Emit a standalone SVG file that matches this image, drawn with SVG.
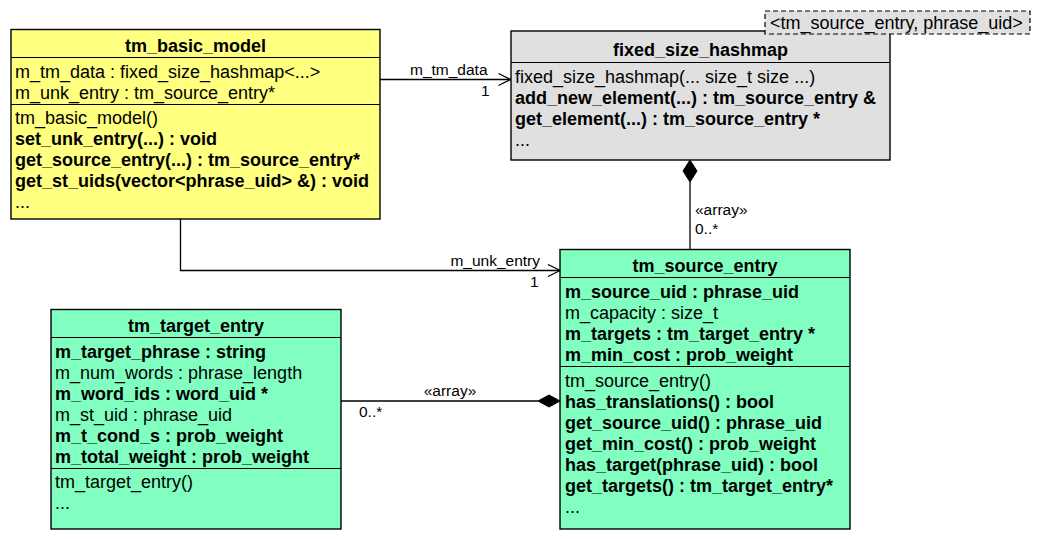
<svg xmlns="http://www.w3.org/2000/svg" width="1040" height="539" viewBox="0 0 1040 539">
<defs>
<style>
text{font-family:"Liberation Sans",Arial,Helvetica,sans-serif;font-size:18px;fill:#000}
.b{font-weight:bold}
.t{font-weight:bold;text-anchor:middle}
.lbl{font-size:15.5px}
.box{stroke:#000;stroke-width:1.4}
.y{fill:#ffff80}
.g{fill:#e0e0e0}
.a{fill:#80ffc0}
.div{stroke:#000;stroke-width:1.2}
.ln{stroke:#000;stroke-width:1.3;fill:none}
.dia{fill:#000;stroke:#000;stroke-width:1}
</style>
<marker id="open" viewBox="0 0 14 14" refX="13" refY="7" markerWidth="14" markerHeight="14" markerUnits="userSpaceOnUse" orient="auto">
<path d="M1,1 L13,7 L1,13" fill="none" stroke="#000" stroke-width="1.2"/>
</marker>
</defs>
<rect width="1040" height="539" fill="#fff"/>

<g id="connectors">
<line class="ln" x1="380" y1="79.5" x2="510.5" y2="79.5" marker-end="url(#open)"/>
<text class="lbl" x="410" y="75">m_tm_data</text>
<text class="lbl" x="481" y="96">1</text>
<path class="ln" d="M180.5,219 V270.5 H560" marker-end="url(#open)"/>
<text class="lbl" x="540" y="266" text-anchor="end">m_unk_entry</text>
<text class="lbl" x="530" y="287">1</text>
<line class="ln" x1="690" y1="182" x2="690" y2="249"/>
<path class="dia" d="M690,160 L697,171 L690,182 L683,171 Z"/>
<text class="lbl" x="695" y="215">«array»</text>
<text class="lbl" x="695" y="234">0..*</text>
<line class="ln" x1="341" y1="401" x2="538" y2="401"/>
<path class="dia" d="M560,401 L549,407 L538,401 L549,395 Z"/>
<text class="lbl" x="450" y="396" text-anchor="middle">«array»</text>
<text class="lbl" x="359" y="417">0..*</text>
</g>

<g id="tm_basic_model">
<rect class="box y" x="11" y="29.5" width="369" height="189.5"/>
<line class="div" x1="11" y1="57.5" x2="380" y2="57.5"/>
<line class="div" x1="11" y1="104.5" x2="380" y2="104.5"/>
<text class="t" x="195.5" y="52">tm_basic_model</text>
<text x="15" y="78">m_tm_data : fixed_size_hashmap&lt;...&gt;</text>
<text x="15" y="99">m_unk_entry : tm_source_entry*</text>
<text x="15" y="124">tm_basic_model()</text>
<text class="b" x="15" y="145">set_unk_entry(...) : void</text>
<text class="b" x="15" y="166">get_source_entry(...) : tm_source_entry*</text>
<text class="b" x="15" y="187">get_st_uids(vector&lt;phrase_uid&gt; &amp;) : void</text>
<text x="15" y="208">...</text>
</g>

<g id="fixed_size_hashmap">
<rect class="box g" x="511" y="31" width="379" height="129"/>
<line class="div" x1="511" y1="62.5" x2="890" y2="62.5"/>
<text class="t" x="700.5" y="56">fixed_size_hashmap</text>
<text x="515" y="83">fixed_size_hashmap(... size_t size ...)</text>
<text class="b" x="515" y="104">add_new_element(...) : tm_source_entry &amp;</text>
<text class="b" x="515" y="125">get_element(...) : tm_source_entry *</text>
<text x="515" y="146">...</text>
<rect class="g" x="765" y="11" width="265" height="23" stroke="#000" stroke-width="1.2" stroke-dasharray="5,3"/>
<text x="770" y="29">&lt;tm_source_entry, phrase_uid&gt;</text>
</g>

<g id="tm_source_entry">
<rect class="box a" x="560" y="249.5" width="290" height="279.5"/>
<line class="div" x1="560" y1="277.5" x2="850" y2="277.5"/>
<line class="div" x1="560" y1="366.5" x2="850" y2="366.5"/>
<text class="t" x="705" y="272">tm_source_entry</text>
<text class="b" x="565" y="298">m_source_uid : phrase_uid</text>
<text x="565" y="319">m_capacity : size_t</text>
<text class="b" x="565" y="340">m_targets : tm_target_entry *</text>
<text class="b" x="565" y="361">m_min_cost : prob_weight</text>
<text x="565" y="387">tm_source_entry()</text>
<text class="b" x="565" y="408">has_translations() : bool</text>
<text class="b" x="565" y="429">get_source_uid() : phrase_uid</text>
<text class="b" x="565" y="450">get_min_cost() : prob_weight</text>
<text class="b" x="565" y="471">has_target(phrase_uid) : bool</text>
<text class="b" x="565" y="492">get_targets() : tm_target_entry*</text>
<text x="565" y="513">...</text>
</g>

<g id="tm_target_entry">
<rect class="box a" x="51" y="309.5" width="290" height="219.5"/>
<line class="div" x1="51" y1="337.5" x2="341" y2="337.5"/>
<line class="div" x1="51" y1="468.5" x2="341" y2="468.5"/>
<text class="t" x="196" y="332">tm_target_entry</text>
<text class="b" x="55" y="358">m_target_phrase : string</text>
<text x="55" y="379">m_num_words : phrase_length</text>
<text class="b" x="55" y="400">m_word_ids : word_uid *</text>
<text x="55" y="421">m_st_uid : phrase_uid</text>
<text class="b" x="55" y="442">m_t_cond_s : prob_weight</text>
<text class="b" x="55" y="463">m_total_weight : prob_weight</text>
<text x="55" y="488">tm_target_entry()</text>
<text x="55" y="509">...</text>
</g>
</svg>
